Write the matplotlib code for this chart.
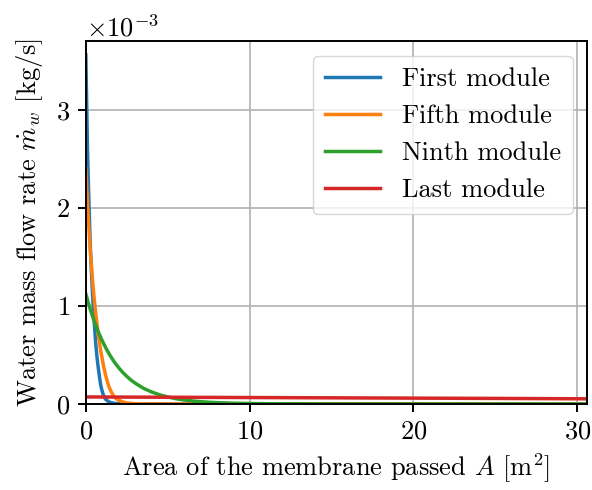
import numpy as np
import matplotlib
matplotlib.use("Agg")
import matplotlib.pyplot as plt

plt.rcParams['font.family'] = 'serif'
plt.rcParams['font.serif'] = ['cmr10']
plt.rcParams['mathtext.fontset'] = 'cm'
plt.rcParams['axes.formatter.use_mathtext'] = True
plt.rcParams['font.size'] = 19

# Data (A in m^2, flow in 1e-3 kg/s)
A_first = [0, 0.03, 0.06, 0.1, 0.15, 0.2, 0.25, 0.3, 0.38, 0.45, 0.52, 0.6, 0.68, 0.75,
           0.83, 0.9, 0.98, 1.05, 1.13, 1.2, 1.35, 1.5, 1.75, 2.0, 2.5, 3.0, 10.0, 30.6]
m_first = [3.56, 3.25, 2.98, 2.6, 2.28, 2.0, 1.72, 1.5, 1.22, 1.0, 0.82, 0.62, 0.48, 0.38,
           0.28, 0.2, 0.14, 0.1, 0.07, 0.05, 0.028, 0.015, 0.007, 0.003, 0.001, 0.0, 0.0, 0.0]

A_fifth = [0, 0.05, 0.1, 0.15, 0.22, 0.3, 0.4, 0.5, 0.6, 0.7, 0.8, 0.9, 1.0, 1.1, 1.2,
           1.3, 1.4, 1.55, 1.7, 1.85, 2.0, 2.25, 2.5, 3.0, 3.5, 10.0, 30.6]
m_fifth = [2.4, 2.22, 2.05, 1.9, 1.7, 1.5, 1.28, 1.09, 0.93, 0.79, 0.66, 0.55, 0.46, 0.37, 0.3,
           0.235, 0.18, 0.125, 0.08, 0.055, 0.04, 0.022, 0.01, 0.003, 0.0, 0.0, 0.0]

A_ninth = [0, 0.25, 0.5, 0.75, 1, 1.25, 1.5, 1.75, 2, 2.25, 2.5, 2.75, 3, 3.5, 4, 4.5, 5,
           5.5, 6, 6.5, 7, 7.5, 8, 9, 10, 12, 15, 30.6]
m_ninth = [1.12, 0.975, 0.849, 0.739, 0.645, 0.562, 0.489, 0.426, 0.371, 0.323, 0.282, 0.245,
           0.214, 0.162, 0.124, 0.094, 0.072, 0.054, 0.041, 0.031, 0.024, 0.018, 0.014, 0.008,
           0.005, 0.0015, 0.0003, 0.0]

A_last = [0, 5, 10, 15, 20, 25, 30.6]
m_last = [0.072, 0.069, 0.066, 0.063, 0.060, 0.057, 0.053]

series = [
    ("First module", A_first, m_first, "#1f77b4"),
    ("Fifth module", A_fifth, m_fifth, "#ff7f0e"),
    ("Ninth module", A_ninth, m_ninth, "#2ca02c"),
    ("Last module", A_last, m_last, "#d62728"),
]

fig = plt.figure(figsize=(5.92, 4.90), dpi=100)
ax = fig.add_axes([0.145, 0.1755, 0.8466, 0.7405])

for label, a, m, c in series:
    ax.plot(a, np.array(m) * 1e-3, color=c, lw=2.5, label=label)

ax.set_xlim(0, 30.6)
ax.set_ylim(0, 3.7e-3)
ax.set_xticks([0, 10, 20, 30])
ax.set_yticks([0, 1e-3, 2e-3, 3e-3])
ax.ticklabel_format(axis='y', style='sci', scilimits=(0, 0))
ax.grid(True, color='#b0b0b0', lw=1.2)
ax.set_axisbelow(True)
for s in ax.spines.values():
    s.set_linewidth(1.4)
ax.tick_params(width=1.4, length=5.5, pad=6)

ax.set_xlabel(r"Area of the membrane passed $A$ [m$^2$]", labelpad=6)
ax.set_ylabel(r"Water mass flow rate $\dot{m}_w$ [kg/s]", labelpad=8)

ax.legend(loc='upper right', fontsize=19, framealpha=0.8, edgecolor='#cccccc',
          handlelength=2.1, borderaxespad=0.55, borderpad=0.45)

fig.savefig("out.png", dpi=100)
